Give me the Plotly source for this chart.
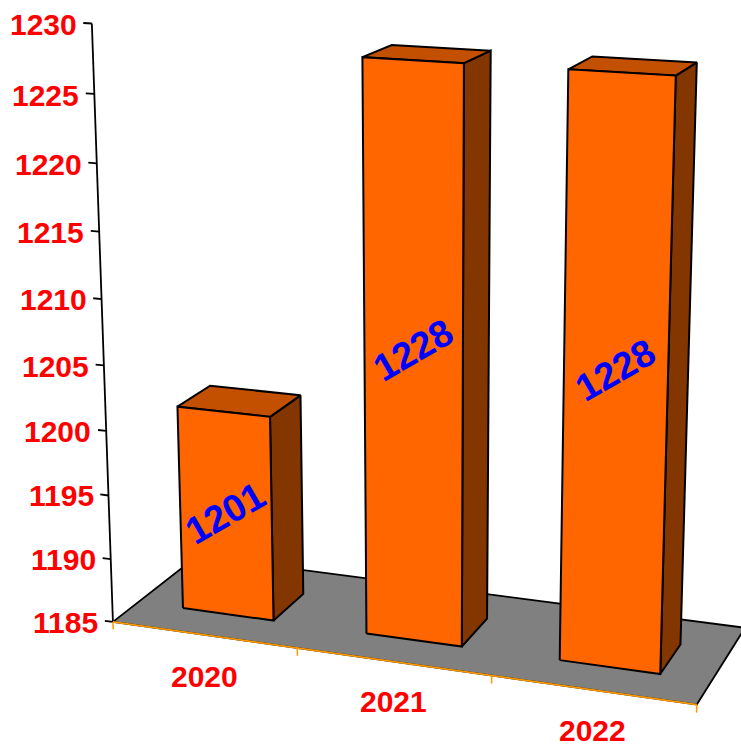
import numpy as np
import plotly.graph_objects as go

categories = ["2020", "2021", "2022"]
values = [1201, 1228, 1228]
value_ticks = [1185, 1190, 1195, 1200, 1205, 1210, 1215, 1220, 1225, 1230]

# perspective camera of the 3-D chart: (category position, depth, scaled value, 1) -> page pixels
CAMERA = np.array([[176.735, 98.254, -26.8296, 112.936],
                   [9.47952, -25.637, -599.87, 621.909],
                   [-0.0256676, 0.0720605, -0.0625002, 1.0]])
VMIN, VMAX = value_ticks[0], value_ticks[-1]
HALF, D0, D1 = 0.25, 0.29, 0.68
FONT = "Liberation Sans, Arial, sans-serif"

def proj(x, d, v):
    q = CAMERA @ np.array([x, d, (v - VMIN) / (VMAX - VMIN), 1.0])
    return q[0] / q[2], q[1] / q[2]

fig = go.Figure()

def path(corners, line, width, fill=None):
    xs, ys = zip(*[proj(*c) for c in corners])
    fig.add_trace(go.Scatter(x=list(xs), y=list(ys), mode="lines",
                             fill="toself" if fill else None, fillcolor=fill,
                             line=dict(color=line, width=width), hoverinfo="skip"))

n = len(categories)
# floor
path([(0, 0, VMIN), (n, 0, VMIN), (n, 1, VMIN), (0, 1, VMIN), (0, 0, VMIN)], "black", 1.8, "#808080")
# value axis and ticks
path([(0, 0, VMIN), (0, 0, VMAX)], "black", 1.8)
for t in value_ticks:
    path([(-0.045, 0, t), (0, 0, t)], "black", 1.8)
# category axis and ticks
path([(0, 0, VMIN), (n, 0, VMIN)], "#FF9900", 1.8)
for i in range(n + 1):
    path([(i, 0, VMIN), (i, 0, VMIN - 0.6)], "#FF9900", 1.5)
# bars
for i, v in enumerate(values):
    a, b = i + 0.5 - HALF, i + 0.5 + HALF
    path([(b, D0, VMIN), (b, D1, VMIN), (b, D1, v), (b, D0, v), (b, D0, VMIN)], "black", 2, "#833600")
    path([(a, D0, v), (b, D0, v), (b, D1, v), (a, D1, v), (a, D0, v)], "black", 2, "#C25000")
    path([(a, D0, VMIN), (b, D0, VMIN), (b, D0, v), (a, D0, v), (a, D0, VMIN)], "black", 2, "#FF6600")

ann = []
for t in value_ticks:
    x, y = proj(-0.07, 0, t)
    ann.append(dict(x=x, y=y, text=str(t), xanchor="right", yanchor="middle", showarrow=False, yshift=-2,
                    font=dict(family=FONT, size=30, color="#FF0000", weight="bold")))
for i, c in enumerate(categories):
    x, y = proj(i + 0.5, 0, VMIN - 3.1)
    ann.append(dict(x=x, y=y, text=c, xanchor="center", yanchor="middle", showarrow=False,
                    yshift=[-3, 0, 0][i],
                    font=dict(family=FONT, size=30, color="#FF0000", weight="bold")))
for i, v in enumerate(values):
    x0, y0 = proj(i + 0.5, D0, VMIN)
    x1, y1 = proj(i + 0.5, D0, v)
    ann.append(dict(x=(x0 + x1) / 2, y=(y0 + y1) / 2, text=str(v), textangle=-30, xanchor="center",
                    yanchor="middle", showarrow=False,
                    font=dict(family=FONT, size=38, color="#0000FF", weight="bold")))

fig.update_layout(width=741, height=744, margin=dict(l=0, r=0, t=0, b=0), showlegend=False,
                  plot_bgcolor="white", paper_bgcolor="white",
                  xaxis=dict(range=[0, 741], visible=False),
                  yaxis=dict(range=[744, 0], visible=False),
                  annotations=ann)
fig.write_html("out.html", config={"displayModeBar": False},
               post_script="document.body.style.margin='0';")
